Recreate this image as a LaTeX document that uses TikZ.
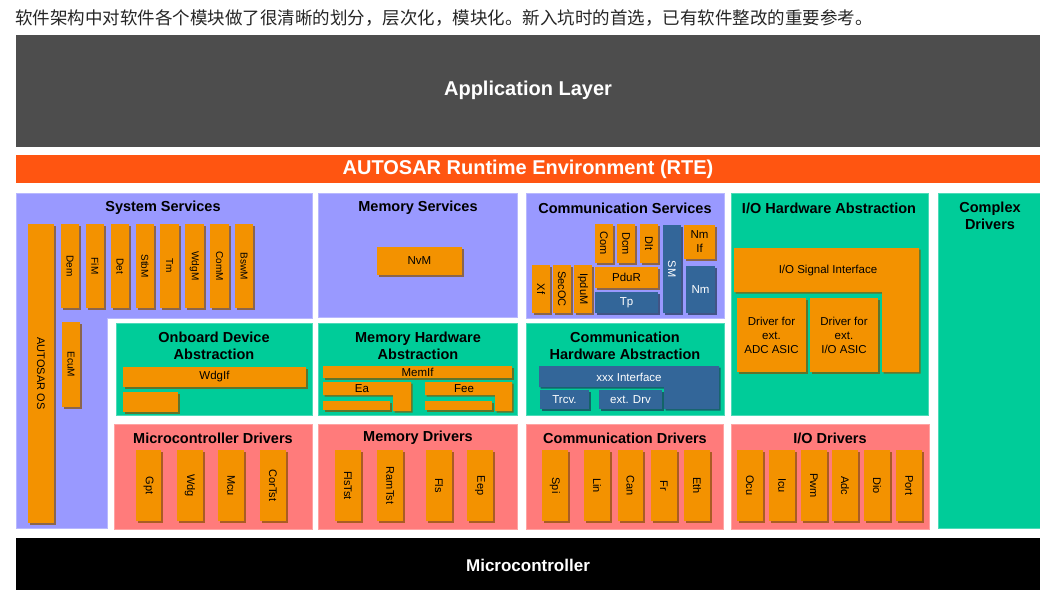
\documentclass[tikz,border=0pt]{standalone}
\usepackage{fontspec}
\setmainfont{Liberation Sans}
\newfontfamily\cjk{Noto Sans CJK SC}
\definecolor{purp}{HTML}{9999FF}
\definecolor{grn}{HTML}{00CC99}
\definecolor{pnk}{HTML}{FF7B7B}
\definecolor{obox}{HTML}{F39200}
\definecolor{bbox}{HTML}{336699}
\definecolor{rte}{HTML}{FF5511}
\definecolor{appl}{HTML}{4D4D4D}
% #1 fill, #2 text style, #3 name, #4 x1, #5 y1, #6 x2, #7 y2, #8 text
\newcommand\bx[8]{%
  \fill[#1!55!black,opacity=.7] (#4+1.5,#5+1.5) rectangle (#6+1.5,#7+1.5);
  \fill[#1] (#4,#5) rectangle (#6,#7);
  \node[#2] (#3) at ({(#4+#6)/2},{(#5+#7)/2}) {#8};}
\newcommand\lsh[2]{%
  \fill[#1!55!black,opacity=.7,shift={(1.5,1.5)}] #2;
  \fill[#1] #2;}
\begin{document}
\begin{tikzpicture}[x=1pt,y=-1pt,
  vt/.style={rotate=-90,font=\fontsize{11}{13}\selectfont,inner sep=0pt},
  vs/.style={rotate=-90,font=\fontsize{10}{12}\selectfont,inner sep=0pt},
  ht/.style={font=\fontsize{11.5}{14}\selectfont,align=center,inner sep=0pt},
  vw/.style={vt,text=white},
  hw/.style={ht,text=white},
  ttl/.style={font=\bfseries\fontsize{14.5}{17.5}\selectfont,align=center,inner sep=0pt},
  big/.style={font=\bfseries\fontsize{20}{24}\selectfont,text=white,inner sep=0pt},
  region/.style={fill=#1,draw=#1!70!white,line width=0.6pt}]
\useasboundingbox (0,0) rectangle (1040,605);
\fill[white] (0,0) rectangle (1040,605);

% heading
\node[anchor=west,inner sep=0pt,font=\cjk\fontsize{17.5}{20}\selectfont,text=black!85] (head) at (15,18)
  {软件架构中对软件各个模块做了很清晰的划分，层次化，模块化。新入坑时的首选，已有软件整改的重要参考。};

% application layer and RTE
\fill[appl] (16,35) rectangle (1040,147);
\node[big] (app) at (528,90) {Application Layer};
\fill[rte] (16,155) rectangle (1040,183);
\node[big] (rteT) at (528,169) {AUTOSAR Runtime Environment (RTE)};

% microcontroller
\fill[black] (16,538) rectangle (1040,590);
\node[big,font=\bfseries\fontsize{17}{20}\selectfont] (mcu) at (528,565) {Microcontroller};

% regions
\path[region=purp] (16,193) -- (312,193) -- (312,318) -- (107,318) -- (107,528) -- (16,528) -- cycle;
\path[region=purp] (318,193) rectangle (517,317);
\path[region=purp] (526,193) rectangle (724,318);
\path[region=grn] (731,193) rectangle (928,415);
\path[region=grn] (938,193) rectangle (1040,528);
\path[region=grn] (116,323) rectangle (312,415);
\path[region=grn] (318,323) rectangle (517,415);
\path[region=grn] (526,323) rectangle (724,415);
\path[region=pnk] (114,424) rectangle (312,529);
\path[region=pnk] (318,424) rectangle (517,529);
\path[region=pnk] (526,424) rectangle (723,529);
\path[region=pnk] (731,424) rectangle (929,529);

% titles
\node[ttl] (tSys) at (163,208) {System Services};
\node[ttl] (tMemS) at (418,208) {Memory Services};
\node[ttl] (tComS) at (625,208) {Communication Services};
\node[ttl] (tIoHw) at (829,208) {I/O Hardware Abstraction};
\node[ttl] (tCdd) at (990,216) {Complex\\Drivers};
\node[ttl] (tOnb) at (214,346) {Onboard Device\\Abstraction};
\node[ttl] (tMemHw) at (418,346) {Memory Hardware\\Abstraction};
\node[ttl] (tComHw) at (625,346) {Communication\\Hardware Abstraction};
\node[ttl] (tMcal) at (213,438) {Microcontroller Drivers};
\node[ttl] (tMemD) at (418,438) {Memory Drivers};
\node[ttl] (tComD) at (625,438) {Communication Drivers};
\node[ttl] (tIoD) at (830,438) {I/O Drivers};

% system services
\bx{obox}{vt}{os}{28}{224}{54}{523}{AUTOSAR OS}
\bx{obox}{vs}{dem}{61}{224}{79}{308}{Dem}
\bx{obox}{vs}{fim}{86}{224}{104}{308}{FiM}
\bx{obox}{vs}{det}{111}{224}{129}{308}{Det}
\bx{obox}{vs}{stbm}{136}{224}{154}{308}{StbM}
\bx{obox}{vs}{tm}{160}{224}{179}{308}{Tm}
\bx{obox}{vs}{wdgm}{185}{224}{204}{308}{WdgM}
\bx{obox}{vs}{comm}{210}{224}{229}{308}{ComM}
\bx{obox}{vs}{bswm}{235}{224}{253}{308}{BswM}
\bx{obox}{vs}{ecum}{62}{322}{80}{407}{EcuM}

% memory services
\bx{obox}{ht}{nvm}{377}{247}{462}{275}{NvM}

% communication services
\bx{obox}{vt}{com}{595}{224}{613}{263}{Com}
\bx{obox}{vt}{dcm}{617}{224}{635}{263}{Dcm}
\bx{obox}{vt}{dlt}{640}{224}{658}{263}{Dlt}
\bx{bbox}{vw}{sm}{663}{225}{681}{313}{SM}
\bx{obox}{ht}{nmif}{684}{225}{715}{259}{Nm\\If}
\bx{bbox}{hw}{nm}{686}{266}{715}{313}{Nm}
\bx{obox}{vt}{xf}{532}{265}{550}{313}{Xf}
\bx{obox}{vt}{secoc}{553}{265}{571}{313}{SecOC}
\bx{obox}{vt}{ipdum}{574}{265}{592}{313}{IpduM}
\bx{obox}{ht}{pdur}{595}{267}{658}{288}{PduR}
\bx{bbox}{hw}{tp}{595}{292}{658}{313}{Tp}

% I/O hardware abstraction
\lsh{obox}{(734,248) -- (919,248) -- (919,372) -- (882,372) -- (882,292) -- (734,292) -- cycle}
\node[ht] (iosig) at (828,271) {I/O Signal Interface};
\bx{obox}{ht}{adcasic}{737}{298}{806}{372}{Driver for\\ext.\\ADC ASIC}
\bx{obox}{ht}{ioasic}{810}{298}{878}{372}{Driver for\\ext.\\I/O ASIC}

% onboard device abstraction
\bx{obox}{ht}{wdgif}{123}{367}{306}{387}{WdgIf}
\bx{obox}{ht}{onbx}{123}{392}{178}{412}{}

% memory hardware abstraction
\bx{obox}{ht}{memif}{323}{366}{512}{378}{MemIf}
\lsh{obox}{(323,382) -- (411,382) -- (411,411) -- (393,411) -- (393,395) -- (323,395) -- cycle}
\node[ht] (ea) at (362,389) {Ea};
\bx{obox}{ht}{eax}{323}{401}{390}{410}{}
\lsh{obox}{(425,382) -- (512,382) -- (512,411) -- (495,411) -- (495,395) -- (425,395) -- cycle}
\node[ht] (fee) at (464,389) {Fee};
\bx{obox}{ht}{feex}{425}{401}{492}{410}{}

% communication hardware abstraction
\lsh{bbox}{(539,366) -- (719,366) -- (719,409) -- (664,409) -- (664,387) -- (539,387) -- cycle}
\node[hw] (xxxif) at (629,377) {xxx Interface};
\bx{bbox}{hw}{trcv}{540}{390}{589}{409}{Trcv.}
\bx{bbox}{hw}{extdrv}{599}{390}{662}{409}{ext. Drv}

% microcontroller drivers
\bx{obox}{vt}{gpt}{136}{450}{161}{521}{Gpt}
\bx{obox}{vt}{wdg}{177}{450}{203}{521}{Wdg}
\bx{obox}{vt}{mcuD}{218}{450}{244}{521}{Mcu}
\bx{obox}{vt}{cortst}{260}{450}{286}{521}{CorTst}

% memory drivers
\bx{obox}{vt}{flstst}{335}{450}{361}{521}{FlsTst}
\bx{obox}{vt}{ramtst}{377}{450}{403}{521}{RamTst}
\bx{obox}{vt}{fls}{426}{450}{452}{521}{Fls}
\bx{obox}{vt}{eep}{467}{450}{493}{521}{Eep}

% communication drivers
\bx{obox}{vt}{spi}{542}{450}{568}{521}{Spi}
\bx{obox}{vt}{lin}{584}{450}{610}{521}{Lin}
\bx{obox}{vt}{can}{618}{450}{643}{521}{Can}
\bx{obox}{vt}{fr}{651}{450}{677}{521}{Fr}
\bx{obox}{vt}{eth}{684}{450}{710}{521}{Eth}

% I/O drivers
\bx{obox}{vt}{ocu}{737}{450}{763}{521}{Ocu}
\bx{obox}{vt}{icu}{769}{450}{795}{521}{Icu}
\bx{obox}{vt}{pwm}{801}{450}{827}{521}{Pwm}
\bx{obox}{vt}{adc}{832}{450}{858}{521}{Adc}
\bx{obox}{vt}{dio}{864}{450}{890}{521}{Dio}
\bx{obox}{vt}{port}{896}{450}{922}{521}{Port}
\end{tikzpicture}
\end{document}
